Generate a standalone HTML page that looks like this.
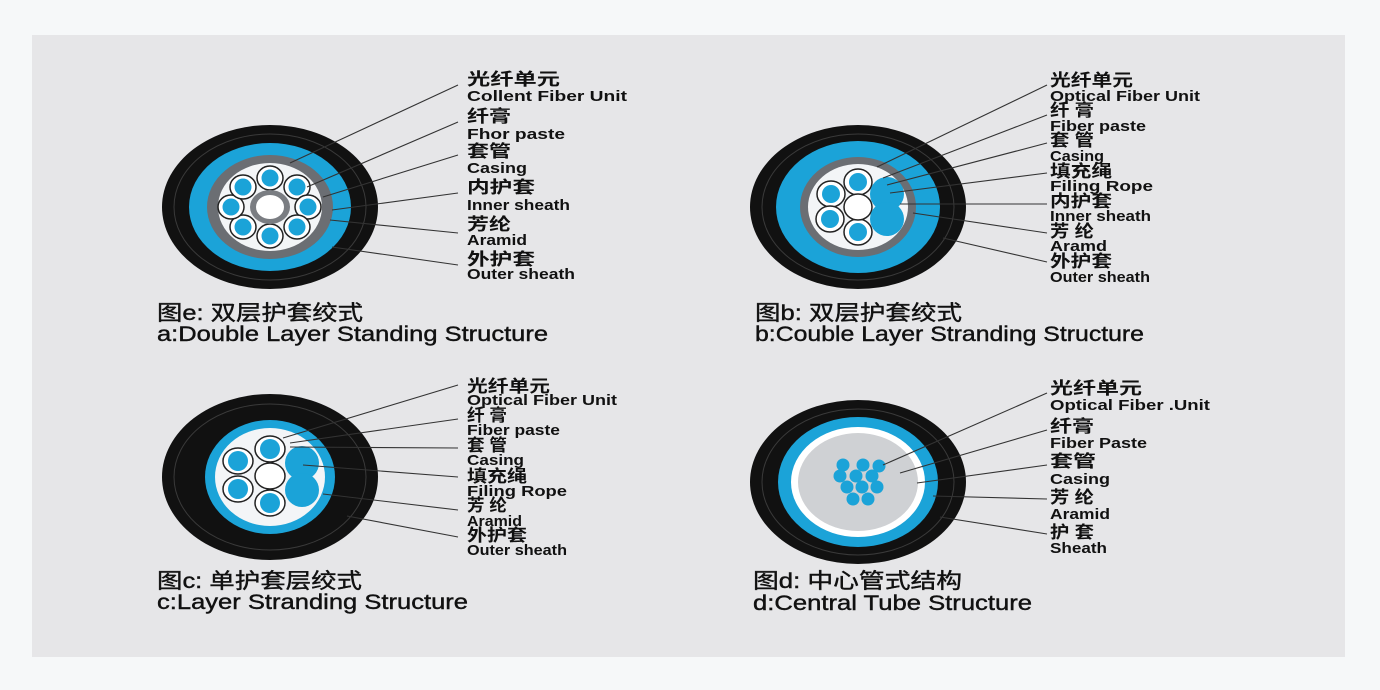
<!DOCTYPE html>
<html><head><meta charset="utf-8"><style>
html,body{margin:0;padding:0;background:#f6f8f9;}
svg{display:block}
text{font-family:"Liberation Sans","Noto Sans CJK SC",sans-serif;fill:#111;}
.l{font-size:15px;font-weight:bold;}
.c{font-size:17px;font-weight:bold;}
.cap{font-size:21px;font-weight:normal;stroke:#111;stroke-width:0.4;}
line{stroke:#333;stroke-width:1.1}
</style></head><body>
<svg width="1380" height="690" viewBox="0 0 1380 690" xmlns="http://www.w3.org/2000/svg">
<rect x="0" y="0" width="1380" height="690" fill="#f6f8f9"/>
<rect x="32" y="35" width="1313" height="622" fill="#e6e6e8"/>

<!-- Cable a -->
<g>
<ellipse cx="270" cy="207" rx="108" ry="82" fill="#111"/>
<ellipse cx="270" cy="207" rx="96" ry="73" fill="none" stroke="#3a3a3a" stroke-width="1"/>
<ellipse cx="270" cy="207" rx="81" ry="64" fill="#1ba3d8"/>
<ellipse cx="270" cy="207" rx="63" ry="52" fill="#6b6e73"/>
<ellipse cx="270" cy="207" rx="52" ry="44" fill="#f3f5f7"/>
<g stroke="#222" stroke-width="1.5" fill="#fff">
<ellipse cx="270" cy="178" rx="13" ry="12"/><ellipse cx="297" cy="187" rx="13" ry="12"/>
<ellipse cx="308" cy="207" rx="13" ry="12"/><ellipse cx="297" cy="227" rx="13" ry="12"/>
<ellipse cx="270" cy="236" rx="13" ry="12"/><ellipse cx="243" cy="227" rx="13" ry="12"/>
<ellipse cx="231" cy="207" rx="13" ry="12"/><ellipse cx="243" cy="187" rx="13" ry="12"/>
</g>
<g fill="#1ba3d8">
<circle cx="270" cy="178" r="8.5"/><circle cx="297" cy="187" r="8.5"/><circle cx="308" cy="207" r="8.5"/><circle cx="297" cy="227" r="8.5"/>
<circle cx="270" cy="236" r="8.5"/><circle cx="243" cy="227" r="8.5"/><circle cx="231" cy="207" r="8.5"/><circle cx="243" cy="187" r="8.5"/>
</g>
<ellipse cx="270" cy="207" rx="20" ry="17" fill="#7a7d82"/>
<ellipse cx="270" cy="207" rx="14" ry="12" fill="#fff"/>
<line x1="458" y1="85" x2="290" y2="163"/><line x1="458" y1="122" x2="307" y2="187"/>
<line x1="458" y1="155" x2="323" y2="197"/><line x1="458" y1="193" x2="332" y2="210"/>
<line x1="458" y1="233" x2="330" y2="220"/><line x1="458" y1="265" x2="332" y2="247"/>
<text class="c" x="467" y="85" textLength="93" lengthAdjust="spacingAndGlyphs">光纤单元</text><text class="l" x="467" y="101" textLength="160" lengthAdjust="spacingAndGlyphs">Collent  Fiber  Unit</text>
<text class="c" x="467" y="122" textLength="44" lengthAdjust="spacingAndGlyphs">纤膏</text><text class="l" x="467" y="139" textLength="98" lengthAdjust="spacingAndGlyphs">Fhor  paste</text>
<text class="c" x="467" y="157" textLength="44" lengthAdjust="spacingAndGlyphs">套管</text><text class="l" x="467" y="173" textLength="60" lengthAdjust="spacingAndGlyphs">Casing</text>
<text class="c" x="467" y="193" textLength="68" lengthAdjust="spacingAndGlyphs">内护套</text><text class="l" x="467" y="210" textLength="103" lengthAdjust="spacingAndGlyphs">Inner sheath</text>
<text class="c" x="467" y="230" textLength="44" lengthAdjust="spacingAndGlyphs">芳纶</text><text class="l" x="467" y="245" textLength="60" lengthAdjust="spacingAndGlyphs">Aramid</text>
<text class="c" x="467" y="265" textLength="68" lengthAdjust="spacingAndGlyphs">外护套</text><text class="l" x="467" y="279" textLength="108" lengthAdjust="spacingAndGlyphs">Outer sheath</text>
<text class="cap" x="157" y="320" textLength="206" lengthAdjust="spacingAndGlyphs">图e: 双层护套绞式</text>
<text class="cap" x="157" y="341" textLength="391" lengthAdjust="spacingAndGlyphs">a:Double Layer Standing Structure</text>
</g>

<!-- Cable b -->
<g>
<ellipse cx="858" cy="207" rx="108" ry="82" fill="#111"/>
<ellipse cx="858" cy="207" rx="96" ry="73" fill="none" stroke="#3a3a3a" stroke-width="1"/>
<ellipse cx="858" cy="207" rx="82" ry="66" fill="#1ba3d8"/>
<ellipse cx="858" cy="207" rx="58" ry="50" fill="#6b6e73"/>
<ellipse cx="858" cy="207" rx="50" ry="43" fill="#f3f5f7"/>
<g stroke="#222" stroke-width="1.5" fill="#fff">
<ellipse cx="858" cy="182" rx="14" ry="13"/><ellipse cx="831" cy="194" rx="14" ry="13"/>
<ellipse cx="830" cy="219" rx="14" ry="13"/><ellipse cx="858" cy="232" rx="14" ry="13"/>
<ellipse cx="858" cy="207" rx="14" ry="13"/>
</g>
<g fill="#1ba3d8">
<circle cx="858" cy="182" r="9"/><circle cx="831" cy="194" r="9"/><circle cx="830" cy="219" r="9"/><circle cx="858" cy="232" r="9"/>
<circle cx="887" cy="194" r="17"/><circle cx="887" cy="219" r="17"/>
</g>
<line x1="1047" y1="85" x2="877" y2="167"/><line x1="1047" y1="115" x2="883" y2="178"/>
<line x1="1047" y1="143" x2="887" y2="185"/><line x1="1047" y1="173" x2="890" y2="193"/>
<line x1="1047" y1="204" x2="900" y2="204"/><line x1="1047" y1="233" x2="913" y2="213"/>
<line x1="1047" y1="262" x2="943" y2="238"/>
<text class="c" x="1050" y="86" textLength="83" lengthAdjust="spacingAndGlyphs">光纤单元</text><text class="l" x="1050" y="101" textLength="150" lengthAdjust="spacingAndGlyphs">Optical Fiber Unit</text>
<text class="c" x="1050" y="116" textLength="44" lengthAdjust="spacingAndGlyphs">纤 膏</text><text class="l" x="1050" y="131" textLength="96" lengthAdjust="spacingAndGlyphs">Fiber paste</text>
<text class="c" x="1050" y="146" textLength="44" lengthAdjust="spacingAndGlyphs">套 管</text><text class="l" x="1050" y="161" textLength="54" lengthAdjust="spacingAndGlyphs">Casing</text>
<text class="c" x="1050" y="177" textLength="62" lengthAdjust="spacingAndGlyphs">填充绳</text><text class="l" x="1050" y="191" textLength="103" lengthAdjust="spacingAndGlyphs">Filing Rope</text>
<text class="c" x="1050" y="207" textLength="62" lengthAdjust="spacingAndGlyphs">内护套</text><text class="l" x="1050" y="221" textLength="101" lengthAdjust="spacingAndGlyphs">Inner sheath</text>
<text class="c" x="1050" y="237" textLength="44" lengthAdjust="spacingAndGlyphs">芳 纶</text><text class="l" x="1050" y="251" textLength="57" lengthAdjust="spacingAndGlyphs">Aramd</text>
<text class="c" x="1050" y="267" textLength="62" lengthAdjust="spacingAndGlyphs">外护套</text><text class="l" x="1050" y="282" textLength="100" lengthAdjust="spacingAndGlyphs">Outer sheath</text>
<text class="cap" x="755" y="320" textLength="207" lengthAdjust="spacingAndGlyphs">图b: 双层护套绞式</text>
<text class="cap" x="755" y="341" textLength="389" lengthAdjust="spacingAndGlyphs">b:Couble Layer Stranding Structure</text>
</g>

<!-- Cable c -->
<g>
<ellipse cx="270" cy="477" rx="108" ry="83" fill="#111"/>
<ellipse cx="270" cy="477" rx="96" ry="73" fill="none" stroke="#3a3a3a" stroke-width="1"/>
<ellipse cx="270" cy="477" rx="65" ry="57" fill="#1ba3d8"/>
<ellipse cx="270" cy="477" rx="55" ry="49" fill="#f3f5f7"/>
<g stroke="#222" stroke-width="1.5" fill="#fff">
<ellipse cx="270" cy="449" rx="15" ry="13"/><ellipse cx="238" cy="461" rx="15" ry="13"/>
<ellipse cx="238" cy="489" rx="15" ry="13"/><ellipse cx="270" cy="503" rx="15" ry="13"/>
<ellipse cx="270" cy="476" rx="15" ry="13"/>
</g>
<g fill="#1ba3d8">
<circle cx="270" cy="449" r="10"/><circle cx="238" cy="461" r="10"/><circle cx="238" cy="489" r="10"/><circle cx="270" cy="503" r="10"/>
<circle cx="302" cy="463" r="17"/><circle cx="302" cy="490" r="17"/>
</g>
<line x1="458" y1="385" x2="283" y2="438"/><line x1="458" y1="419" x2="290" y2="443"/>
<line x1="458" y1="448" x2="290" y2="447"/><line x1="458" y1="477" x2="303" y2="465"/>
<line x1="458" y1="510" x2="323" y2="494"/><line x1="458" y1="537" x2="347" y2="516"/>
<text class="c" x="467" y="392" textLength="83" lengthAdjust="spacingAndGlyphs">光纤单元</text><text class="l" x="467" y="405" textLength="150" lengthAdjust="spacingAndGlyphs">Optical Fiber Unit</text>
<text class="c" x="467" y="421" textLength="40" lengthAdjust="spacingAndGlyphs">纤 膏</text><text class="l" x="467" y="435" textLength="93" lengthAdjust="spacingAndGlyphs">Fiber paste</text>
<text class="c" x="467" y="451" textLength="40" lengthAdjust="spacingAndGlyphs">套 管</text><text class="l" x="467" y="465" textLength="57" lengthAdjust="spacingAndGlyphs">Casing</text>
<text class="c" x="467" y="482" textLength="60" lengthAdjust="spacingAndGlyphs">填充绳</text><text class="l" x="467" y="496" textLength="100" lengthAdjust="spacingAndGlyphs">Filing Rope</text>
<text class="c" x="467" y="511" textLength="40" lengthAdjust="spacingAndGlyphs">芳 纶</text><text class="l" x="467" y="526" textLength="55" lengthAdjust="spacingAndGlyphs">Aramid</text>
<text class="c" x="467" y="541" textLength="60" lengthAdjust="spacingAndGlyphs">外护套</text><text class="l" x="467" y="555" textLength="100" lengthAdjust="spacingAndGlyphs">Outer sheath</text>
<text class="cap" x="157" y="588" textLength="205" lengthAdjust="spacingAndGlyphs">图c: 单护套层绞式</text>
<text class="cap" x="157" y="609" textLength="311" lengthAdjust="spacingAndGlyphs">c:Layer Stranding Structure</text>
</g>

<!-- Cable d -->
<g>
<ellipse cx="858" cy="482" rx="108" ry="82" fill="#111"/>
<ellipse cx="858" cy="482" rx="96" ry="73" fill="none" stroke="#3a3a3a" stroke-width="1"/>
<ellipse cx="858" cy="482" rx="80" ry="65" fill="#1ba3d8"/>
<ellipse cx="858" cy="482" rx="67" ry="55" fill="#fff"/>
<ellipse cx="858" cy="482" rx="60" ry="49" fill="#cfd1d4"/>
<g fill="#1ba3d8">
<circle cx="843" cy="465" r="6.5"/><circle cx="863" cy="465" r="6.5"/><circle cx="879" cy="466" r="6.5"/>
<circle cx="840" cy="476" r="6.5"/><circle cx="856" cy="476" r="6.5"/><circle cx="872" cy="476" r="6.5"/>
<circle cx="847" cy="487" r="6.5"/><circle cx="862" cy="487" r="6.5"/><circle cx="877" cy="487" r="6.5"/>
<circle cx="853" cy="499" r="6.5"/><circle cx="868" cy="499" r="6.5"/>
</g>
<line x1="1047" y1="393" x2="883" y2="465"/><line x1="1047" y1="430" x2="900" y2="473"/>
<line x1="1047" y1="465" x2="917" y2="483"/><line x1="1047" y1="499" x2="933" y2="496"/>
<line x1="1047" y1="534" x2="940" y2="517"/>
<text class="c" x="1050" y="394" textLength="92" lengthAdjust="spacingAndGlyphs">光纤单元</text><text class="l" x="1050" y="410" textLength="160" lengthAdjust="spacingAndGlyphs">Optical  Fiber .Unit</text>
<text class="c" x="1050" y="432" textLength="44" lengthAdjust="spacingAndGlyphs">纤膏</text><text class="l" x="1050" y="448" textLength="97" lengthAdjust="spacingAndGlyphs">Fiber Paste</text>
<text class="c" x="1050" y="467" textLength="46" lengthAdjust="spacingAndGlyphs">套管</text><text class="l" x="1050" y="484" textLength="60" lengthAdjust="spacingAndGlyphs">Casing</text>
<text class="c" x="1050" y="503" textLength="44" lengthAdjust="spacingAndGlyphs">芳 纶</text><text class="l" x="1050" y="519" textLength="60" lengthAdjust="spacingAndGlyphs">Aramid</text>
<text class="c" x="1050" y="538" textLength="44" lengthAdjust="spacingAndGlyphs">护 套</text><text class="l" x="1050" y="553" textLength="57" lengthAdjust="spacingAndGlyphs">Sheath</text>
<text class="cap" x="753" y="588" textLength="209" lengthAdjust="spacingAndGlyphs">图d: 中心管式结构</text>
<text class="cap" x="753" y="610" textLength="279" lengthAdjust="spacingAndGlyphs">d:Central Tube Structure</text>
</g>
</svg>
</body></html>
